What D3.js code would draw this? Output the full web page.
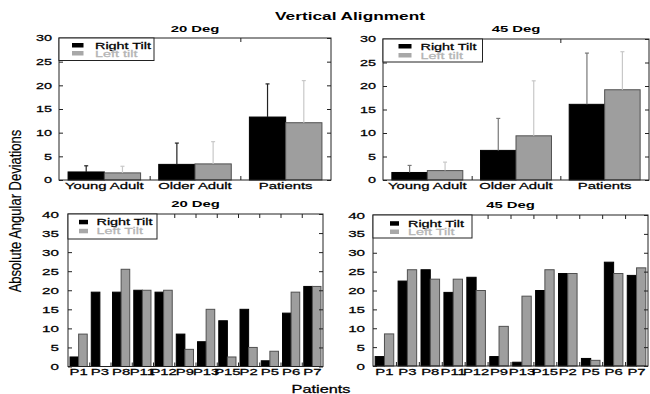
<!DOCTYPE html>
<html><head><meta charset="utf-8">
<script src="https://cdn.jsdelivr.net/npm/d3@7"></script>
<style>body{margin:0;background:#fff}svg{display:block}</style>
</head><body><svg id="c" width="650" height="394"></svg>
<script>
// ---------- data ----------
const groupCategories = ["Young Adult", "Older Adult", "Patients"];
const legendTop = ["Right Tilt", "Left tilt"];
const legendBottom = ["Right Tilt", "Left Tilt"];
const group20Right = [1.7, 3.3, 13.3];
const group20RightSD = [1.3, 4.5, 7.0];
const group20Left = [1.5, 3.4, 12.1];
const group20LeftSD = [1.4, 4.7, 8.9];
const group45Right = [1.6, 6.3, 16.1];
const group45RightSD = [1.5, 6.8, 10.9];
const group45Left = [2.0, 9.4, 19.2];
const group45LeftSD = [1.8, 11.7, 8.1];
const patients = ["P1", "P3", "P8", "P11", "P12", "P9", "P13", "P15", "P2", "P5", "P6", "P7"];
const patients20Right = [2.5, 19.5, 19.5, 20, 19.5, 8.5, 6.5, 12, 15, 1.5, 14, 21];
const patients20Left = [8.5, 0, 25.5, 20, 20, 4.5, 15, 2.5, 5, 4, 19.5, 21];
const patients45Right = [2.5, 22.5, 25.5, 19.5, 23.5, 2.5, 1, 20, 24.5, 2, 27.5, 24];
const patients45Left = [8.5, 25.5, 23, 23, 20, 10.5, 18.5, 25.5, 24.5, 1.5, 24.5, 26];
const ticksTop = [0, 5, 10, 15, 20, 25, 30];
const ticksBottom = [0, 5, 10, 15, 20, 25, 30, 35, 40];
const mainTitle = "Vertical Alignment";
const yTitle = "Absolute Angular Deviations";
const xTitle = "Patients";

// ---------- drawing ----------
const FONT = '"Liberation Sans", Arial, Helvetica, sans-serif';
const SX = 1.6;
const svg = d3.select("#c");

function txt(parent, x, y, s, o = {}) {
  const fill = o.fill || "#000";
  return parent.append("text")
    .attr("transform", `translate(${x},${y}) scale(${o.sx || SX},1)` + (o.rot ? ` rotate(${o.rot})` : ""))
    .attr("text-anchor", o.anchor || "middle")
    .attr("font-family", FONT)
    .attr("font-size", o.size || 9.3)
    .attr("font-weight", o.weight || "normal")
    .attr("fill", fill)
    .attr("stroke", fill).attr("stroke-width", o.sw === undefined ? 0.25 : o.sw)
    .text(s);
}

const BLACK = "#000", GRAY = "#9e9e9e", GRAY_STROKE = "#505050";

function panel(c) {
  const g = svg.append("g");
  const n = c.cats.length;
  const x = d3.scaleBand().domain(c.cats).range([c.x0, c.x1]).paddingInner(c.pin).paddingOuter(c.pin / 2);
  const xs = d3.scaleBand().domain([0, 1]).range([0, x.bandwidth()]);
  const xl = d3.scaleLinear().domain([0, n]).range([c.x0, c.x1]);
  const y = d3.scaleLinear().domain([0, c.ticks[c.ticks.length - 1]]).range([c.y1, c.y0]);
  const series = [
    { vals: c.right, sd: c.rightSD, fill: BLACK, stroke: "#000", err: c.errR },
    { vals: c.left, sd: c.leftSD, fill: GRAY, stroke: GRAY_STROKE, err: "#c8c8c8" }
  ];
  series.forEach((s, si) => {
    g.append("g").selectAll("rect").data(s.vals).join("rect")
      .attr("x", (d, i) => x(c.cats[i]) + xs(si))
      .attr("y", d => y(d))
      .attr("width", xs.bandwidth())
      .attr("height", d => y(0) - y(d))
      .attr("fill", s.fill)
      .attr("stroke", s.stroke).attr("stroke-width", 1);
    if (s.sd) {
      const eg = g.append("g").attr("stroke", s.err).attr("stroke-width", 1.2);
      s.vals.forEach((d, i) => {
        const cx = x(c.cats[i]) + xs(si) + xs.bandwidth() / 2;
        eg.append("line").attr("x1", cx).attr("x2", cx).attr("y1", y(d)).attr("y2", y(d + s.sd[i]));
        eg.append("line").attr("x1", cx - 2).attr("x2", cx + 2).attr("y1", y(d + s.sd[i])).attr("y2", y(d + s.sd[i]));
      });
    }
  });
  // axes
  const axL = g.append("g").attr("transform", `translate(${c.x0},0)`)
    .call(d3.axisLeft(y).tickValues(c.ticks).tickSizeInner(-4).tickSizeOuter(0).tickPadding(c.tp / SX));
  axL.selectAll("text").attr("transform", `scale(${SX},1)`).attr("font-size", c.tfs).attr("font-family", FONT)
    .attr("stroke", "#000").attr("stroke-width", 0.25);
  axL.select(".domain").remove();
  const axR = g.append("g").attr("transform", `translate(${c.x1},0)`)
    .call(d3.axisRight(y).tickValues(c.ticks).tickSizeInner(-4).tickSizeOuter(0).tickFormat(""));
  axR.select(".domain").remove();
  const axB = g.append("g").attr("transform", `translate(0,${c.y1})`)
    .call(d3.axisBottom(xl).tickValues(d3.range(1, n)).tickSizeInner(-4).tickSizeOuter(0).tickFormat(""));
  axB.select(".domain").remove();
  const axT = g.append("g").attr("transform", `translate(0,${c.y0})`)
    .call(d3.axisTop(xl).tickValues(d3.range(1, n)).tickSizeInner(-4).tickSizeOuter(0).tickFormat(""));
  axT.select(".domain").remove();
  const axC = g.append("g").attr("transform", `translate(0,${c.y1})`)
    .call(d3.axisBottom(x).tickSize(0).tickPadding(c.xp));
  axC.select(".domain").remove();
  axC.selectAll("text").attr("transform", `scale(${SX},1)`).attr("font-size", c.xfs).attr("font-family", FONT)
    .attr("stroke", "#000").attr("stroke-width", 0.25);
  g.selectAll(".tick line").attr("stroke", "#222");
  g.append("rect").attr("x", c.x0).attr("y", c.y0).attr("width", c.x1 - c.x0).attr("height", c.y1 - c.y0)
    .attr("fill", "none").attr("stroke", "#222").attr("stroke-width", 1);
  // title
  txt(g, (c.x0 + c.x1) / 2, c.titleY, c.title, { weight: "bold", size: 9.3, sw: 0 });
  // legend
  const L = c.leg;
  const lg = g.append("g");
  lg.append("rect").attr("x", c.x0).attr("y", c.y0).attr("width", L.w).attr("height", L.h)
    .attr("fill", "#fff").attr("stroke", "#222").attr("stroke-width", 1);
  c.legNames.forEach((nm, i) => {
    lg.append("rect").attr("x", c.x0 + L.sq).attr("y", c.y0 + L.r[i] - 5.5).attr("width", L.sw).attr("height", 4.5)
      .attr("fill", i === 0 ? BLACK : "#a8a8a8");
    txt(lg, c.x0 + L.tx, c.y0 + L.r[i], nm, { anchor: "start", size: 9, fill: i === 0 ? "#000" : "#b4b4b4" });
  });
}

panel({ x0: 59, x1: 331, y0: 38, y1: 180, cats: groupCategories, pin: 0.2,
  right: group20Right, rightSD: group20RightSD, left: group20Left, leftSD: group20LeftSD, errR: "#222",
  ticks: ticksTop, tp: 7, tfs: 9, xp: 2, xfs: 9.3, title: "20 Deg", titleY: 31.5,
  legNames: legendTop, leg: { w: 95, h: 22.5, sq: 13, sw: 11.5, tx: 36, r: [10.5, 18.5] } });
panel({ x0: 383, x1: 649, y0: 39, y1: 180, cats: groupCategories, pin: 0.2,
  right: group45Right, rightSD: group45RightSD, left: group45Left, leftSD: group45LeftSD, errR: "#777",
  ticks: ticksTop, tp: 7, tfs: 9, xp: 2, xfs: 9.3, title: "45 Deg", titleY: 32,
  legNames: legendTop, leg: { w: 99.5, h: 23, sq: 15.5, sw: 13, tx: 37.5, r: [10.5, 19.5] } });
panel({ x0: 68, x1: 323, y0: 214, y1: 366.5, cats: patients, pin: 0.19,
  right: patients20Right, left: patients20Left,
  ticks: ticksBottom, tp: 9, tfs: 9.5, xp: 2, xfs: 9.3, title: "20 Deg", titleY: 206.5,
  legNames: legendBottom, leg: { w: 89, h: 25, sq: 11, sw: 9, tx: 28.5, r: [11.3, 20.3] } });
panel({ x0: 373, x1: 648, y0: 215, y1: 366, cats: patients, pin: 0.19,
  right: patients45Right, left: patients45Left,
  ticks: ticksBottom, tp: 8, tfs: 9.5, xp: 2, xfs: 9.3, title: "45 Deg", titleY: 208,
  legNames: legendBottom, leg: { w: 99, h: 23, sq: 17, sw: 9, tx: 35, r: [11.7, 20] } });

txt(svg, 350, 19.5, mainTitle, { weight: "bold", size: 10.8, sw: 0 });
txt(svg, 21, 211, yTitle, { size: 13, sx: 1.22, rot: -90, sw: 0.15 });
txt(svg, 321, 393, xTitle, { size: 10.2 });
</script></body></html>
